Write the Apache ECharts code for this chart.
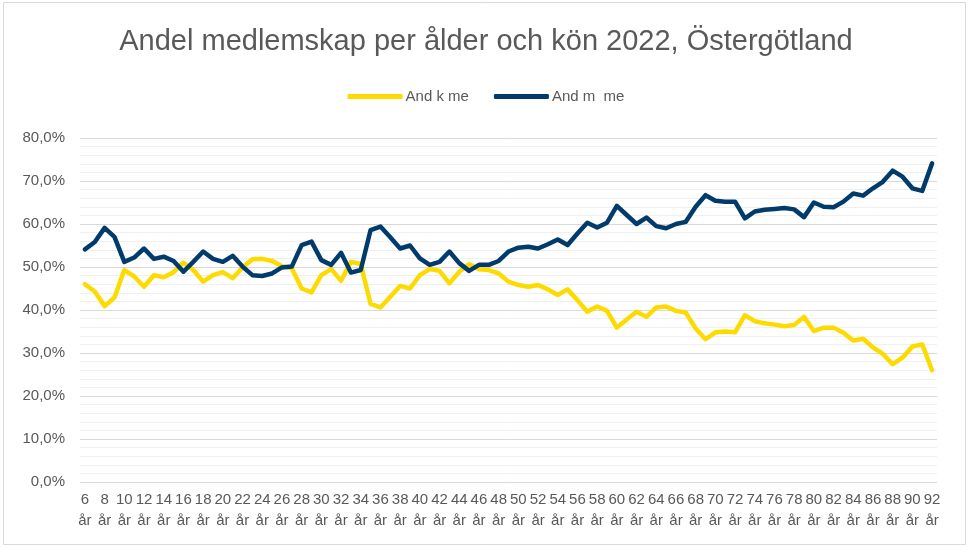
<!DOCTYPE html>
<html>
<head>
<meta charset="utf-8">
<title>Andel medlemskap per ålder och kön 2022, Östergötland</title>
<script src="https://cdn.jsdelivr.net/npm/echarts@6/dist/echarts.min.js"></script>
<style>
    html, body { margin: 0; padding: 0; background: #ffffff; }
    #chart { width: 972px; height: 547px; }
</style>
</head>
<body>
<div id="chart"></div>
<script>
// åldrar 6–92 år
const ages = [];
for (let a = 6; a <= 92; a++) ages.push(a + ' år');

// andel kvinnor (%)
const women = [
    46.0, 44.3, 40.9, 42.9, 49.3, 47.8, 45.4, 48.1, 47.6, 48.8,
    51.0, 49.3, 46.6, 48.1, 48.8, 47.4, 49.9, 51.8, 51.9, 51.4,
    50.2, 49.7, 45.0, 44.1, 48.1, 49.5, 46.8, 51.2, 50.7, 41.4,
    40.6, 43.1, 45.6, 45.0, 48.1, 49.5, 49.1, 46.2, 48.9, 50.7,
    49.5, 49.3, 48.5, 46.6, 45.8, 45.4, 45.8, 44.8, 43.5, 44.8,
    42.3, 39.6, 40.8, 39.8, 35.9, 37.8, 39.6, 38.4, 40.6, 40.8,
    39.8, 39.4, 35.7, 33.2, 34.8, 35.0, 34.8, 38.8, 37.4, 36.9,
    36.6, 36.2, 36.5, 38.4, 35.1, 35.9, 35.9, 34.7, 32.9, 33.3,
    31.3, 29.8, 27.4, 28.9, 31.5, 32.0, 26.0
];

// andel män (%)
const men = [
    54.1, 55.8, 59.1, 57.0, 51.2, 52.2, 54.3, 51.9, 52.4, 51.4,
    48.9, 51.2, 53.6, 51.9, 51.2, 52.6, 50.1, 48.1, 47.9, 48.5,
    49.9, 50.1, 55.1, 55.9, 51.6, 50.5, 53.3, 48.7, 49.3, 58.6,
    59.4, 56.9, 54.3, 55.0, 52.0, 50.5, 51.2, 53.6, 50.9, 49.1,
    50.5, 50.5, 51.4, 53.6, 54.5, 54.7, 54.3, 55.3, 56.4, 55.1,
    57.8, 60.3, 59.2, 60.3, 64.2, 62.1, 60.0, 61.5, 59.5, 59.0,
    60.0, 60.5, 64.0, 66.7, 65.4, 65.2, 65.2, 61.3, 62.9, 63.3,
    63.5, 63.7, 63.4, 61.6, 65.0, 64.0, 63.9, 65.2, 67.1, 66.6,
    68.3, 69.8, 72.4, 71.0, 68.3, 67.7, 74.1
];

const seriesNames = ['And k me', 'And m  me'];
const textColor = '#595959';
const fontFamily = '"Liberation Sans", Arial, sans-serif';

const chart = echarts.init(document.getElementById('chart'), null, { renderer: 'canvas' });

chart.setOption({
    backgroundColor: '#ffffff',
    textStyle: { fontFamily: fontFamily, color: textColor },
    graphic: [{
        type: 'rect',
        shape: { x: 3.5, y: 2.5, width: 962, height: 542 },
        style: { fill: 'none', stroke: '#d9d9d9', lineWidth: 1 },
        silent: true
    }],
    title: {
        text: 'Andel medlemskap per ålder och kön 2022, Östergötland',
        left: 'center',
        top: 22,
        textStyle: { fontSize: 29, fontWeight: 'normal', color: textColor, fontFamily: fontFamily }
    },
    legend: {
        top: 84,
        left: 'center',
        itemGap: 25,
        itemWidth: 55,
        itemHeight: 5,
        icon: 'roundRect',
        textStyle: { fontSize: 15, color: textColor, padding: [0, 0, 0, -2] },
        data: seriesNames
    },
    grid: { left: 80, right: 35, top: 138, bottom: 65 },
    xAxis: {
        type: 'category',
        data: ages,
        boundaryGap: true,
        axisLine: { show: false },
        axisTick: { show: false },
        axisLabel: {
            interval: 1,
            margin: 7,
            fontSize: 15,
            lineHeight: 21,
            color: textColor,
            formatter: v => v.replace(' ', '\n')
        }
    },
    yAxis: {
        type: 'value',
        min: 0,
        max: 80,
        interval: 10,
        axisLine: { show: false },
        axisTick: { show: false },
        axisLabel: {
            margin: 15,
            fontSize: 15,
            color: textColor,
            formatter: v => v.toFixed(1).replace('.', ',') + '%'
        },
        splitLine: { lineStyle: { color: '#d9d9d9', width: 1 } },
        minorTick: { show: false, splitNumber: 5 },
        minorSplitLine: { show: true, lineStyle: { color: '#f0f0f0', width: 1 } }
    },
    series: [
        {
            name: seriesNames[0],
            type: 'line',
            data: women,
            showSymbol: false,
            symbol: 'none',
            color: '#fedb00',
            lineStyle: { width: 4.5, cap: 'round', join: 'round' }
        },
        {
            name: seriesNames[1],
            type: 'line',
            data: men,
            showSymbol: false,
            symbol: 'none',
            color: '#003b6b',
            lineStyle: { width: 4.5, cap: 'round', join: 'round' }
        }
    ]
});
</script>
</body>
</html>
